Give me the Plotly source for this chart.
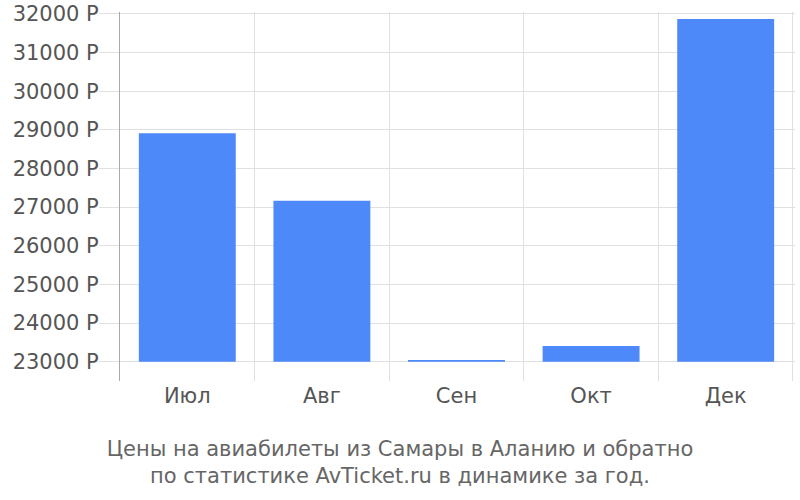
import plotly.graph_objects as go

months = ["Июл", "Авг", "Сен", "Окт", "Дек"]
prices = [28910, 27165, 23045, 23405, 31870]
base_price = 23000
y_ticks = [23000, 24000, 25000, 26000, 27000, 28000, 29000, 30000, 31000, 32000]
y_tick_labels = [f"{v} Р" for v in y_ticks]

FONT = "DejaVu Sans, Liberation Sans, Arial, sans-serif"

fig = go.Figure(
    go.Bar(
        x=months,
        y=[p - base_price for p in prices],
        base=base_price,
        marker=dict(color="#4d89f9", line=dict(width=0)),
        width=0.72,
        hoverinfo="skip",
    )
)

fig.update_layout(
    width=800,
    height=500,
    margin=dict(l=120, r=5, t=12, b=119, autoexpand=False),
    plot_bgcolor="white",
    paper_bgcolor="white",
    font=dict(family=FONT, color="#555555", size=21),
    showlegend=False,
    title=dict(
        text="Цены на авиабилеты из Самары в Аланию и обратно<br>по статистике AvTicket.ru в динамике за год.",
        x=0.5,
        xref="container",
        xanchor="center",
        y=0.0886,
        yref="container",
        yanchor="top",
        font=dict(family=FONT, size=21, color="#666666"),
    ),
    xaxis=dict(
        type="category",
        tickson="boundaries",
        showgrid=True,
        gridcolor="#e0e0e0",
        gridwidth=1,
        ticks="",
        showline=False,
        zeroline=False,
        automargin=False,
        tickfont=dict(family=FONT, size=21, color="#555555"),
        range=[-0.5, 4.515],
    ),
    yaxis=dict(
        range=[22500, 32050],
        tickvals=y_ticks,
        ticktext=y_tick_labels,
        showgrid=True,
        gridcolor="#e0e0e0",
        gridwidth=1,
        ticks="outside",
        ticklen=20,
        tickcolor="#e0e0e0",
        tickwidth=1,
        showline=True,
        linecolor="#aaaaaa",
        linewidth=1,
        zeroline=False,
        automargin=False,
        tickfont=dict(family=FONT, size=21, color="#555555"),
        ticklabelstandoff=-4,
        ticklabeloverflow="allow",
    ),
)

fig.write_html(
    "out.html",
    config={"displayModeBar": False, "staticPlot": True},
    post_script="document.body.style.margin='0';document.body.style.overflow='hidden';",
)
